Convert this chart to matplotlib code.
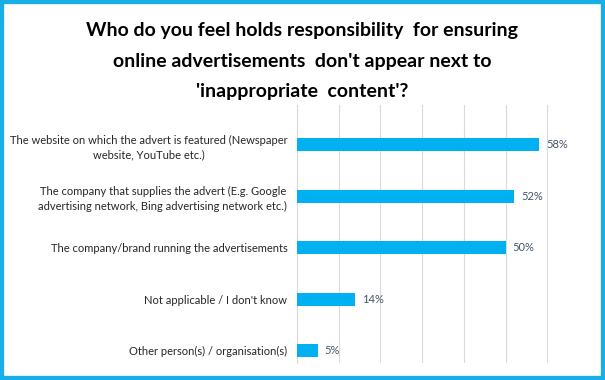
import matplotlib
matplotlib.use("Agg")
import matplotlib.pyplot as plt
from matplotlib.patches import Rectangle

categories = [
    "The website on which the advert is featured (Newspaper\nwebsite, YouTube etc.)",
    "The company that supplies the advert (E.g. Google\nadvertising network, Bing advertising network etc.)",
    "The company/brand running the advertisements",
    "Not applicable / I don't know",
    "Other person(s) / organisation(s)",
]
values = [58, 52, 50, 14, 5]
value_labels = ["58%", "52%", "50%", "14%", "5%"]
title = "Who do you feel holds responsibility  for ensuring\nonline advertisements  don't appear next to\n'inappropriate  content'?"

plt.rcParams['font.family'] = ['Lato', 'DejaVu Sans']

W, H = 605, 380
fig = plt.figure(figsize=(W / 100, H / 100), dpi=100)
fig.patch.set_facecolor("white")

# cyan frame
fig.patches.append(Rectangle((0, 0), 1, 1, transform=fig.transFigure, fill=False,
                             edgecolor="#1AAEE6", linewidth=6, zorder=10))

left, right, top, bottom = 297, 589, 105, 363
ax = fig.add_axes([left / W, 1 - bottom / H, (right - left) / W, (bottom - top) / H])

ypos = list(range(len(values)))
ax.barh(ypos, values, height=0.25, color="#00B0F0", zorder=3)
ax.set_xlim(0, 70)
ax.set_ylim(4.24, -0.77)
ax.set_xticks(range(0, 71, 10))
ax.xaxis.grid(True, color="#D9D9D9", linewidth=0.8, zorder=0)
ax.tick_params(axis="x", length=0, labelbottom=False)
ax.tick_params(axis="y", length=0, pad=7)
ax.set_yticks(ypos)
ax.set_yticklabels(categories, fontsize=8, color="#262626", multialignment="center",
                   linespacing=1.45)
for s in ["top", "right", "bottom"]:
    ax.spines[s].set_visible(False)
ax.spines["left"].set_color("#D9D9D9")
ax.spines["left"].set_linewidth(0.8)

for y, v, lab in zip(ypos, values, value_labels):
    ax.annotate(lab, (v, y), xytext=(5, 0), textcoords="offset points",
                va="center", ha="left", fontsize=8, color="#44546A")

fig.text(302 / W, 1 - 61 / H, title, ha="center", va="center", fontsize=14,
         fontweight="bold", color="black", linespacing=1.93)

fig.savefig("out.png", dpi=100)
